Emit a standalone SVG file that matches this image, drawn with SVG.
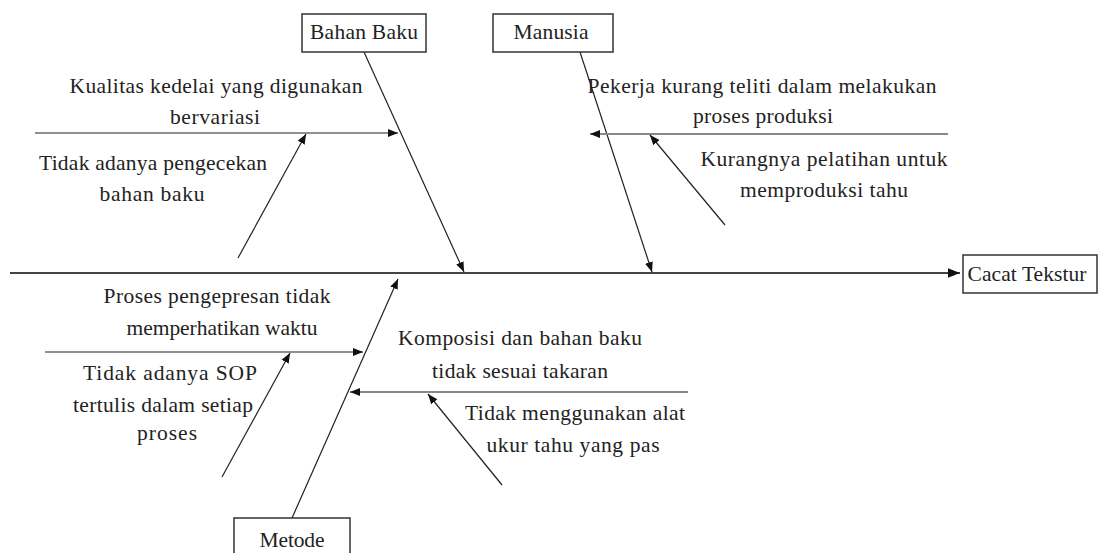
<svg xmlns="http://www.w3.org/2000/svg" width="1098" height="553" viewBox="0 0 1098 553">
<style>
text{font-family:"Liberation Serif","DejaVu Serif",serif;font-size:21.5px;fill:#222;text-anchor:middle}
.box{fill:#fff;stroke:#333;stroke-width:1.5}
.ln{stroke:#222;stroke-width:1.2;fill:none}
.gr{stroke:#888;stroke-width:2.2;fill:none}
.sp{stroke:#444;stroke-width:2;fill:none}
</style>
<defs>
<marker id="ah" viewBox="0 0 10 10" refX="10" refY="5" markerWidth="10" markerHeight="10" markerUnits="userSpaceOnUse" orient="auto"><path d="M0,1 L10,5 L0,9 Z" fill="#111"/></marker>
<marker id="ah2" viewBox="0 0 10 10" refX="10" refY="5" markerWidth="12" markerHeight="12" markerUnits="userSpaceOnUse" orient="auto"><path d="M0,1 L10,5 L0,9 Z" fill="#111"/></marker>
</defs>
<rect width="1098" height="553" fill="#fff"/>
<g id="connectors">
<line class="sp" x1="10" y1="273" x2="960" y2="273" marker-end="url(#ah2)"/>
<line class="ln" x1="364" y1="52" x2="464" y2="272" marker-end="url(#ah)"/>
<line class="ln" x1="580" y1="52" x2="652" y2="272" marker-end="url(#ah)"/>
<line class="ln" x1="292" y1="518" x2="398" y2="279" marker-end="url(#ah)"/>
<line class="ln" x1="35" y1="133" x2="398" y2="133" marker-end="url(#ah)"/>
<line class="ln" x1="238" y1="258" x2="306" y2="134" marker-end="url(#ah)"/>
<line class="gr" x1="948" y1="134" x2="590" y2="134" marker-end="url(#ah)"/>
<line class="ln" x1="725" y1="225" x2="650" y2="135" marker-end="url(#ah)"/>
<line class="ln" x1="45" y1="352" x2="363" y2="352" marker-end="url(#ah)"/>
<line class="ln" x1="222" y1="477" x2="290" y2="353" marker-end="url(#ah)"/>
<line class="gr" x1="688" y1="392" x2="350" y2="392" marker-end="url(#ah)"/>
<line class="ln" x1="502" y1="485" x2="428" y2="394" marker-end="url(#ah)"/>
</g>
<g id="bahan-baku"><rect class="box" x="302" y="14" width="124" height="38"/><text x="364" y="39" textLength="108">Bahan Baku</text></g>
<g id="manusia"><rect class="box" x="493" y="14" width="120" height="38"/><text x="551" y="39" textLength="75">Manusia</text></g>
<g id="metode"><rect class="box" x="234" y="518" width="116" height="40"/><text x="292" y="547" textLength="65">Metode</text></g>
<g id="cacat-tekstur"><rect class="box" x="963" y="255" width="134" height="38"/><text x="1027" y="281" textLength="119">Cacat Tekstur</text></g>
<g id="cause-kualitas"><text x="216" y="93" textLength="293">Kualitas kedelai yang digunakan</text><text x="215" y="124" textLength="90">bervariasi</text></g>
<g id="cause-pengecekan"><text x="153" y="170" textLength="228">Tidak adanya pengecekan</text><text x="152" y="201" textLength="105">bahan baku</text></g>
<g id="cause-pekerja"><text x="762" y="93" textLength="349">Pekerja kurang teliti dalam melakukan</text><text x="763" y="123" textLength="140">proses produksi</text></g>
<g id="cause-pelatihan"><text x="824" y="166" textLength="247">Kurangnya pelatihan untuk</text><text x="824" y="197" textLength="168">memproduksi tahu</text></g>
<g id="cause-pengepresan"><text x="217" y="303" textLength="227">Proses pengepresan tidak</text><text x="222" y="335" textLength="191">memperhatikan waktu</text></g>
<g id="cause-sop"><text x="170" y="380" textLength="174">Tidak adanya SOP</text><text x="163" y="412" textLength="180">tertulis dalam setiap</text><text x="167" y="440" textLength="60">proses</text></g>
<g id="cause-komposisi"><text x="520" y="345" textLength="244">Komposisi dan bahan baku</text><text x="520" y="378" textLength="176">tidak sesuai takaran</text></g>
<g id="cause-alat"><text x="575" y="420" textLength="220">Tidak menggunakan alat</text><text x="573" y="452" textLength="173">ukur tahu yang pas</text></g>
</svg>
